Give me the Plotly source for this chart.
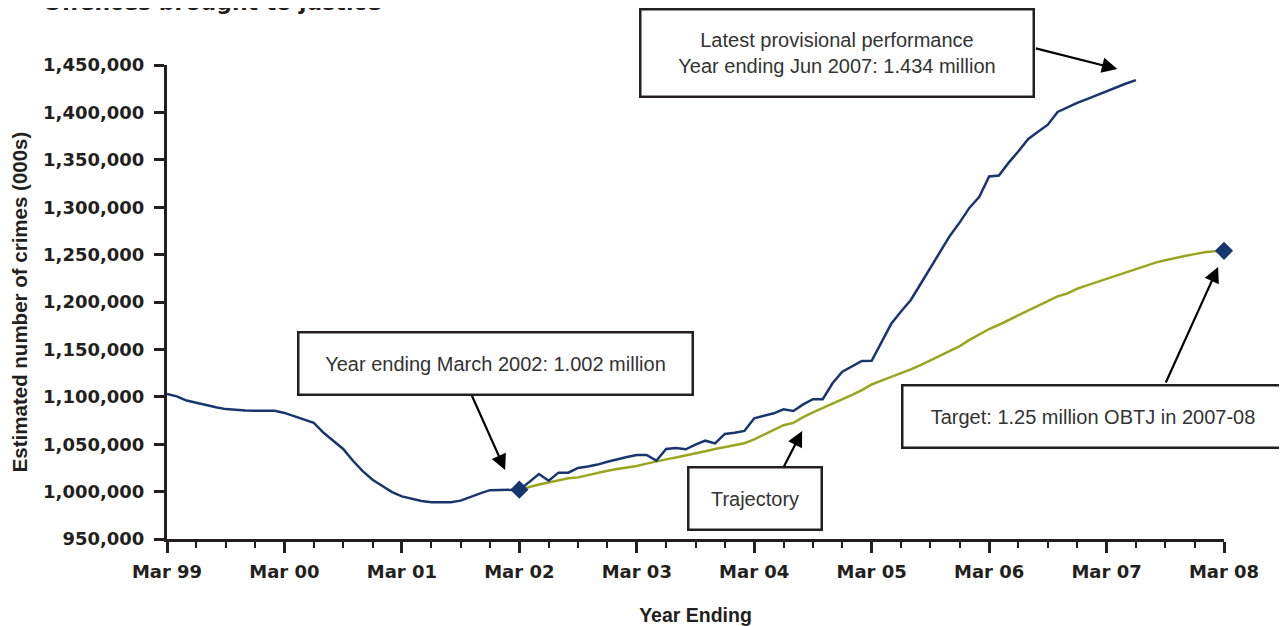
import plotly.graph_objects as go

# months since Mar 1999 (monthly rolling-year data)
months_actual = list(range(0, 100))
actual = [
    1103000, 1100500, 1096000, 1093500, 1091700, 1089000, 1087000, 1086000, 1085500, 1085300,
    1085300, 1085300, 1083000, 1079500, 1076000, 1072500, 1062000, 1053000, 1045000, 1032500,
    1021500, 1012500, 1006000, 999500, 995000, 992500, 990000, 988700, 988700, 988700,
    990500, 994500, 998200, 1001500, 1001700, 1001700, 1002000, 1010000, 1018600, 1011500,
    1020000, 1020000, 1025000, 1026500, 1028500, 1031500, 1034400, 1036500, 1038600, 1038600,
    1032600, 1044900, 1046000, 1044600, 1049500, 1053700, 1050900, 1060800, 1062000, 1064000,
    1077300, 1080000, 1082600, 1086800, 1085000, 1092000, 1097500, 1097500, 1114300, 1126500,
    1132000, 1137800, 1138000, 1158000, 1177000, 1190000, 1202100, 1219000, 1236500, 1253000,
    1270000, 1284000, 1299500, 1311000, 1332500, 1333500, 1347000, 1359000, 1372000, 1379500,
    1387000, 1400500, 1405500, 1410000, 1414000, 1418200, 1422300, 1426400, 1430500, 1434000,
]

months_traj = list(range(36, 109))
trajectory = [
    1002000, 1005000, 1007500, 1009500, 1012000, 1014000, 1015000, 1017500, 1020000, 1022000,
    1023800, 1025500, 1027000, 1029500, 1032000, 1034000, 1036000, 1038000, 1040000, 1042500,
    1045000, 1047000, 1048500, 1051000, 1055000, 1060000, 1065000, 1070000, 1072500, 1078500,
    1083500, 1088000, 1092500, 1097000, 1102000, 1107000, 1113000, 1117000, 1121000, 1124500,
    1129000, 1133500, 1138500, 1143500, 1149000, 1153500, 1160000, 1166000, 1171500, 1176000,
    1181000, 1186000, 1191500, 1196500, 1201500, 1206000, 1209000, 1214000, 1217500, 1221000,
    1224500, 1228000, 1231500, 1235000, 1238500, 1241500, 1244000, 1246500, 1248500, 1250500,
    1252500, 1253500, 1254000,
]

marker_months = [36, 108]
marker_values = [1002000, 1254000]

x_tick_vals = list(range(0, 109, 12))
x_tick_text = ["Mar 99", "Mar 00", "Mar 01", "Mar 02", "Mar 03",
               "Mar 04", "Mar 05", "Mar 06", "Mar 07", "Mar 08"]
y_tick_vals = list(range(950000, 1450001, 50000))

BLUE = "#17366f"
GREEN = "#9aa51f"
AX = "#231f20"
TXT = "#333333"

fig = go.Figure()
fig.add_trace(go.Scatter(x=months_traj, y=trajectory, mode="lines",
                         line=dict(color=GREEN, width=2.5), showlegend=False))
fig.add_trace(go.Scatter(x=months_actual, y=actual, mode="lines",
                         line=dict(color=BLUE, width=2.5), showlegend=False))
fig.add_trace(go.Scatter(x=marker_months, y=marker_values, mode="markers",
                         marker=dict(symbol="diamond", size=14, color=BLUE),
                         showlegend=False, cliponaxis=False))

boxes = [
    ("Latest provisional performance<br>Year ending Jun 2007: 1.434 million", 0.6343, 1.0243, 391, 85),
    ("Year ending March 2002: 1.002 million", 0.3108, 0.3713, 392, 60),
    ("Trajectory", 0.5566, 0.0844, 131, 60),
    ("Target: 1.25 million OBTJ in 2007-08", 0.8764, 0.2580, 379, 60),
]
for text, bx, by, w, h in boxes:
    fig.add_annotation(text=text, x=bx, y=by, xref="paper", yref="paper",
                       xanchor="center", yanchor="middle", showarrow=False,
                       width=w, height=h, align="center", valign="middle",
                       bordercolor=AX, borderwidth=2.5, borderpad=0, bgcolor="white",
                       font=dict(family="Liberation Sans, Arial", size=20, color=TXT))

# arrows: head in data coords, tail offset in pixels
arrows = [
    (97.1, 1445800, -83, -21),
    (34.55, 1022800, -34, -76),
    (64.9, 1063900, -19, 37),
    (107.4, 1236900, -53, 117),
]
for hx, hy, axp, ayp in arrows:
    fig.add_annotation(x=hx, y=hy, xref="x", yref="y", ax=axp, ay=ayp,
                       axref="pixel", ayref="pixel", text="", showarrow=True,
                       arrowhead=2, arrowsize=1.4, arrowwidth=2.2, arrowcolor="black")

# cut-off title at top
fig.add_annotation(text="<b>Offences brought to justice</b>", x=-0.119, y=1.131,
                   xref="paper", yref="paper", xanchor="left", yanchor="middle",
                   showarrow=False,
                   font=dict(family="DejaVu Sans", size=22, color=AX))

tickfont = dict(family="DejaVu Sans", size=18, color=AX, weight="bold")
titlefont = dict(family="Liberation Sans, Arial", size=19.5, color=AX)
fig.update_layout(
    width=1279, height=618,
    margin=dict(l=159, r=63, t=57, b=87, autoexpand=False),
    paper_bgcolor="white", plot_bgcolor="white",
    xaxis=dict(range=[0, 108], tickmode="array", tickvals=x_tick_vals, ticktext=x_tick_text,
               showline=True, linecolor=AX, linewidth=3, ticks="outside", ticklen=11,
               tickwidth=3, tickcolor=AX, showgrid=False, zeroline=False, automargin=False,
               tickfont=tickfont, ticklabelstandoff=3,
               minor=dict(tickvals=list(range(0, 109, 3)), ticks="outside", ticklen=6,
                          tickwidth=2, tickcolor=AX, showgrid=False),
               title=dict(text="<b>Year Ending</b>", standoff=35, font=titlefont)),
    yaxis=dict(range=[950000, 1450000], tickmode="array", tickvals=y_tick_vals,
               tickformat=",", showline=True, linecolor=AX, linewidth=3,
               ticks="outside", ticklen=10, tickwidth=3, tickcolor=AX, automargin=False,
               showgrid=False, zeroline=False, tickfont=tickfont, ticklabelstandoff=6,
               title=dict(text="<b>Estimated number of crimes (000s)</b>", standoff=16,
                          font=dict(family="Liberation Sans, Arial", size=20.5, color=AX))),
)

fig.write_html("out.html")
